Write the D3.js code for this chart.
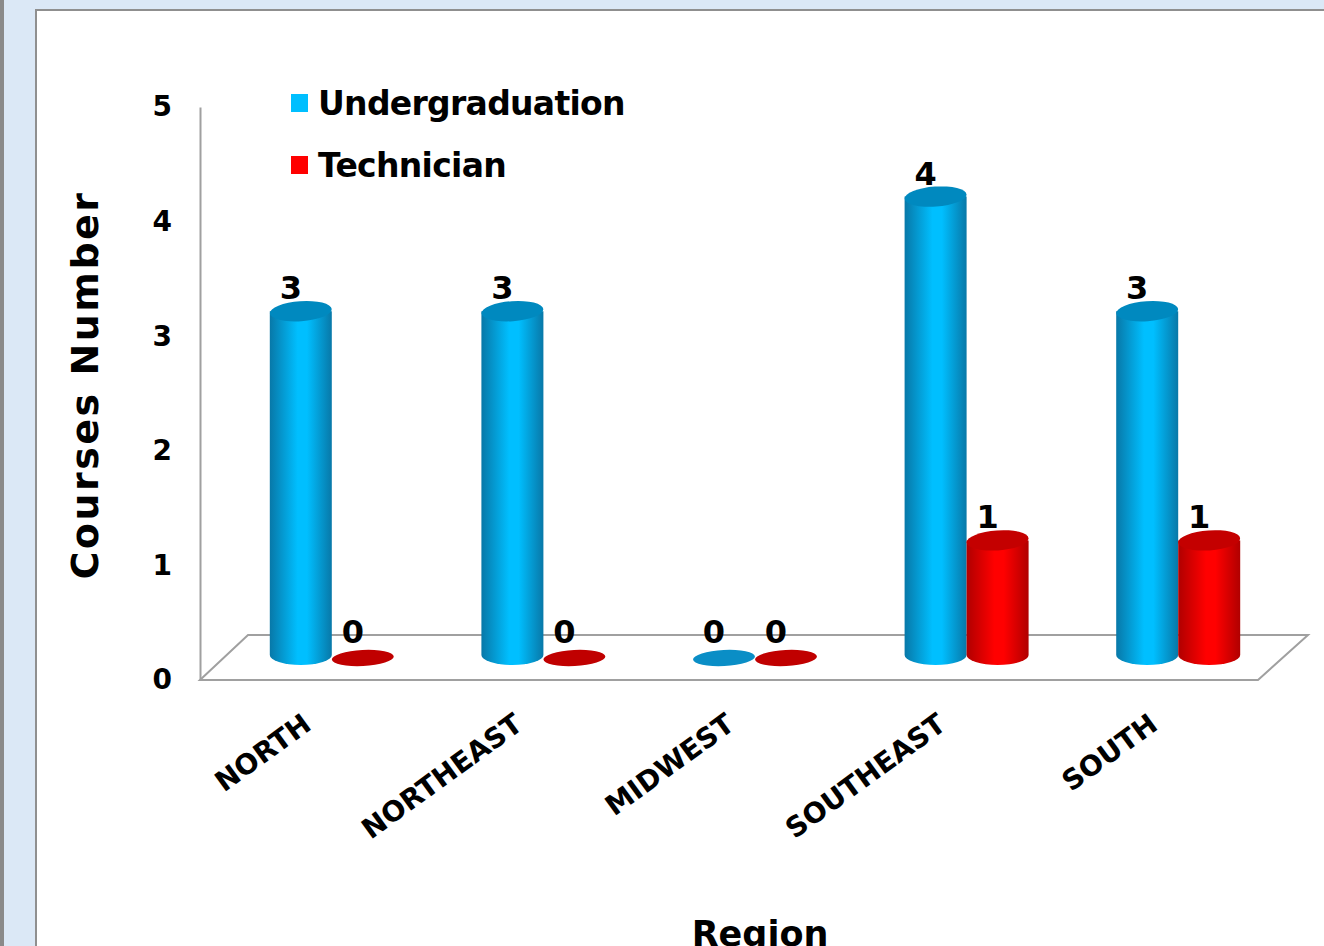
<!DOCTYPE html>
<html>
<head>
<meta charset="utf-8">
<script src="https://cdn.jsdelivr.net/npm/d3@7"></script>
<style>
  body { margin: 0; background: #dbe8f6; }
  svg { display: block; }
</style>
</head>
<body>
<svg id="chart" width="1324" height="946"></svg>
<script>
const regions = ['NORTH', 'NORTHEAST', 'MIDWEST', 'SOUTHEAST', 'SOUTH']
const undergraduation = [3, 3, 0, 4, 3]
const technician = [0, 0, 0, 1, 1]
const yTicks = [0, 1, 2, 3, 4, 5]

const series = [
  { name: 'Undergraduation', values: undergraduation, light: '#00bfff', dark: '#0878a8', top: '#0089bf', flat: '#0a8ec6' },
  { name: 'Technician', values: technician, light: '#ff0000', dark: '#b00000', top: '#c40000', flat: '#c00000' }
]

const svg = d3.select('#chart')
const font = 'DejaVu Sans, Verdana, sans-serif'

// page background and white panel
svg.append('rect').attr('width', 1324).attr('height', 946).attr('fill', '#dbe8f6')
svg.append('rect').attr('x', 0).attr('y', 0).attr('width', 4).attr('height', 946).attr('fill', '#8a8a8a')
svg.append('rect').attr('x', 36).attr('y', 10).attr('width', 1300).attr('height', 950)
  .attr('fill', '#fff').attr('stroke', '#8f8f8f').attr('stroke-width', 2)

// gradients for the cylinders
const defs = svg.append('defs')
series.forEach((s, i) => {
  const g = defs.append('linearGradient').attr('id', `grad${i}`)
    .attr('x1', '0%').attr('x2', '100%').attr('y1', '0%').attr('y2', '0%')
  g.append('stop').attr('offset', '0%').attr('stop-color', s.dark)
  g.append('stop').attr('offset', '45%').attr('stop-color', s.light)
  g.append('stop').attr('offset', '60%').attr('stop-color', s.light)
  g.append('stop').attr('offset', '100%').attr('stop-color', s.dark)
})

// scales: axis lives on the front plane, bars sit a bit deeper
const yAxis = d3.scaleLinear().domain([0, 5]).range([680, 107])
const depth = 25
const yBar = (v) => yAxis(v) - depth
const x = d3.scaleBand().domain(regions).range([226, 1284])
const barW = 62
const rx = barW / 2
const ry = 10

// floor
const floor = svg.append('g').attr('fill', 'none').attr('stroke', '#a0a0a0').attr('stroke-width', 2)
floor.append('path').attr('d', `M200,${yAxis(0)} L248,${yAxis(0) - 45} L1308,${yAxis(0) - 45} L1258,${yAxis(0)} Z`)

// y axis
const axis = d3.axisLeft(yAxis).tickValues(yTicks).tickFormat(d3.format('d'))
  .tickSizeInner(0).tickSizeOuter(0).tickPadding(28)
const gy = svg.append('g').attr('transform', 'translate(200,0)').call(axis)
gy.select('.domain').attr('stroke', '#a0a0a0').attr('stroke-width', 2)
gy.selectAll('text').attr('font-family', font).attr('font-weight', 'bold').attr('font-size', 28).attr('fill', '#000')

// cylinders
const bars = svg.append('g')
regions.forEach((r, ri) => {
  const c = x(r) + x.bandwidth() / 2
  series.forEach((s, si) => {
    const v = s.values[ri]
    const cx = c + (si === 0 ? -rx : rx)
    const yb = yBar(0)
    const yt = yBar(v)
    if (v > 0) {
      bars.append('path')
        .attr('d', `M${cx - rx},${yt} L${cx - rx},${yb} A${rx},${ry} 0 0 0 ${cx + rx},${yb} L${cx + rx},${yt} Z`)
        .attr('fill', `url(#grad${si})`)
      bars.append('ellipse').attr('cx', cx).attr('cy', yt).attr('rx', rx).attr('ry', ry)
        .attr('fill', s.top).attr('transform', `rotate(-4,${cx},${yt})`)
    } else {
      bars.append('ellipse').attr('cx', cx).attr('cy', yb + 3).attr('rx', rx).attr('ry', 8)
        .attr('fill', s.flat).attr('transform', `rotate(-3,${cx},${yb + 3})`)
    }
    bars.append('text')
      .attr('x', cx - 10).attr('y', yt - 12)
      .attr('text-anchor', 'middle')
      .attr('font-family', font).attr('font-weight', 'bold').attr('font-size', 32)
      .text(v)
  })
})

// x labels
svg.append('g').selectAll('text').data(regions).join('text')
  .attr('transform', (d) => `translate(${x(d) + x.bandwidth() / 2 - 32},${710}) rotate(-36)`)
  .attr('text-anchor', 'end')
  .attr('font-family', font).attr('font-weight', 'bold').attr('font-size', 28)
  .attr('dy', '0.8em')
  .text((d) => d)

// axis titles
svg.append('text')
  .attr('transform', 'translate(98,385) rotate(-90)')
  .attr('text-anchor', 'middle')
  .attr('font-family', font).attr('font-weight', 'bold').attr('font-size', 38)
  .attr('letter-spacing', 2.5)
  .text('Courses Number')

svg.append('text')
  .attr('x', 760).attr('y', 946)
  .attr('text-anchor', 'middle')
  .attr('font-family', font).attr('font-weight', 'bold').attr('font-size', 35)
  .text('Region')

// legend
const legend = svg.append('g')
series.forEach((s, i) => {
  const ly = 103 + i * 62
  legend.append('rect').attr('x', 291).attr('y', ly - 9).attr('width', 17).attr('height', 18).attr('fill', s.light)
  legend.append('text').attr('x', 318).attr('y', ly).attr('dy', '0.36em')
    .attr('font-family', font).attr('font-weight', 'bold').attr('font-size', 33)
    .attr('letter-spacing', -0.7)
    .text(s.name)
})
</script>
</body>
</html>
